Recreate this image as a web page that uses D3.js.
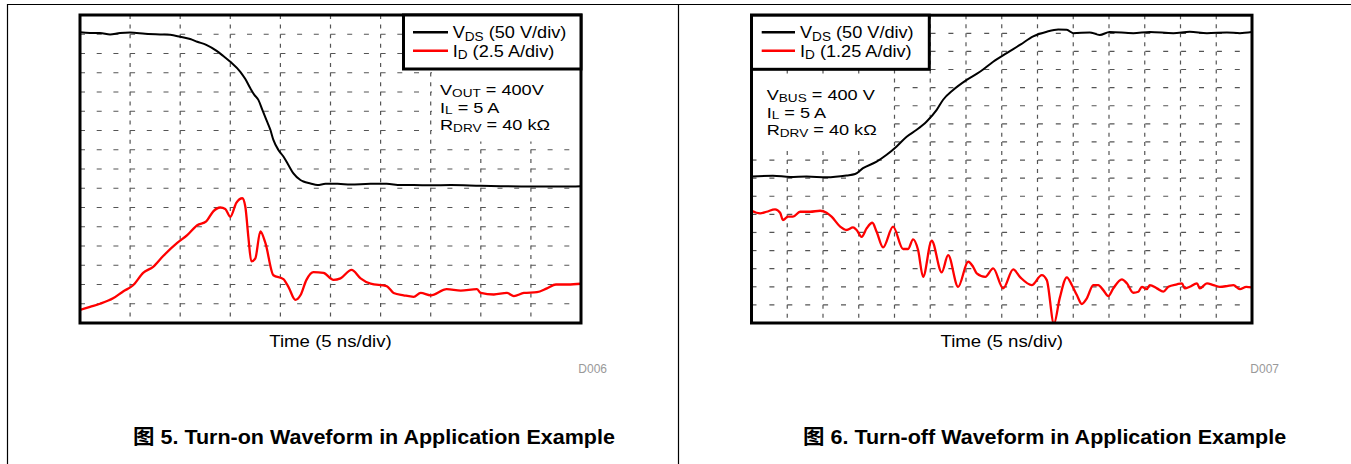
<!DOCTYPE html>
<html><head><meta charset="utf-8">
<script src="https://cdn.jsdelivr.net/npm/d3@7"></script>
<style>body{margin:0;background:#fff}svg{display:block}</style>
</head><body>
<svg id="c" width="1351" height="464"></svg>
<script>
// ---------- DATA (time in ns, voltage in V, current in A) ----------
// Figure 5: turn-on (5 ns/div, 10 div)
const onVdsT = [0,1,2,3,4,5,6.5,8,9,10,11,11.7,12.6,13.6,14.3,15,16,16.5,17,17.4,17.8,18.2,18.6,19,19.3,19.8,20.3,20.8,21.3,22,22.3,23,23.7,24.5,25.7,27,29,30.6,32,33.3,35,37,40,42,45,47,48.3,50];
const onVdsV = [397,395,395,391,395,396,393,391,390,385,379,372,364,349,335,320,294,275,251,234,221,195,169,143,117,91,74,52,30,13,9,4,0,3,3,1,3,3,0,0,-1,0,-2,-3,-4,-4,-4,-3];
const onIdT = [0,1,2,3.3,4.3,5.3,6.3,7.3,8.3,9.7,10.7,11.7,12.6,13.3,14,14.5,15,15.6,16.2,16.5,16.8,17.1,17.5,18,18.5,19.3,20.3,20.8,21.5,22,22.6,23.3,24.3,25.3,26,27.1,28,29,30.6,31.3,32.3,33.3,34,35,36.6,38,39.6,40,41.3,42.6,43.3,44.3,45.6,46.6,47.5,48.7,50];
const onIdA = [2.4,2.8,3.2,3.9,4.8,5.6,7.2,8.0,9.4,11.1,12.1,13.4,13.9,15.2,15.7,15.5,14.5,16.3,16.9,15.8,11.9,8.7,9.1,12.6,11.1,6.9,6.4,5.4,3.7,4.3,6.3,7.3,7.2,6.3,6.5,7.6,6.5,5.8,5.5,4.6,4.3,4.1,4.6,4.3,5.1,4.9,5.1,4.6,4.4,4.6,4.2,4.6,4.7,5.2,5.7,5.7,5.8];
// Figure 6: turn-off (5 ns/div, 14 div)
const offVdsT = [0,3,5.4,7.7,10.5,13.3,14.5,15.6,17.5,18.9,20.3,21.7,23.1,24.5,25.9,26.8,28.2,30.1,32,33.8,35.7,37.6,39.4,41.3,42.9,44.1,45,47.3,48.7,50.1,53.4,55.7,59,61.3,63.7,66.5,68.3,70];
const offVdsV = [1,3,0,1,-1,4,8,24,42,61,84,111,130,153,185,213,240,268,291,318,342,365,388,401,407,406,397,399,392,400,397,400,397,401,397,399,397,400];
const offIdT = [0,1.2,2.1,3.3,4.0,4.4,5.1,5.8,6.8,8.2,9.6,10.5,11.2,12.4,13.3,14.2,14.7,15.4,16.1,16.9,17.5,18.4,19.8,21.2,21.9,22.6,23.3,24.0,25.2,26.6,27.5,28.9,30.3,31.0,31.5,32.7,33.8,35.2,36.6,37.6,39.2,40.6,41.3,42.3,43.1,44.1,44.8,45.5,46.2,46.9,47.8,48.5,49.2,49.9,50.6,51.8,52.5,53.4,54.1,54.6,55.3,55.7,56.7,57.6,58.3,59.5,60.2,60.6,61.3,62.3,62.7,63.7,64.6,65.5,66.5,67.4,68.3,69.2,70];
const offIdA = [5.2,5.02,5.13,5.3,5.06,4.56,4.79,4.79,5.13,5.13,5.2,5.06,4.79,4.1,3.87,4.05,3.87,3.4,3.98,4.37,3.75,2.67,4.1,2.56,2.56,3.23,2.49,0.64,3.13,0.95,2.14,-0.05,1.68,1.33,0.88,0.64,1.22,-0.16,1.15,0.6,0.07,0.76,0.41,-2.6,-0.85,0.6,0.07,-0.62,-1.24,-0.85,0.07,0.07,-0.28,-0.69,-0.16,0.46,0.19,-0.46,-0.39,-0.05,-0.21,0.07,-0.16,-0.39,-0.05,0.12,0.19,-0.16,-0.05,0.19,-0.16,0.19,0.07,-0.05,0,0.07,-0.21,-0.05,-0.09];

// Text
const onLegend = [[["V",0],["DS",1],[" (50 V/div)",0]], [["I",0],["D",1],[" (2.5 A/div)",0]]];
const offLegend = [[["V",0],["DS",1],[" (50 V/div)",0]], [["I",0],["D",1],[" (1.25 A/div)",0]]];
const onNotes = [[["V",0],["OUT",1],[" = 400V",0]], [["I",0],["L",1],[" = 5 A",0]], [["R",0],["DRV",1],[" = 40 kΩ",0]]];
const offNotes = [[["V",0],["BUS",1],[" = 400 V",0]], [["I",0],["L",1],[" = 5 A",0]], [["R",0],["DRV",1],[" = 40 kΩ",0]]];
const axisLabel = "Time (5 ns/div)";
const captions = ["图 5. Turn-on Waveform in Application Example", "图 6. Turn-off Waveform in Application Example"];
const codes = ["D006", "D007"];

// ---------- LAYOUT ----------
const FONT = '"Liberation Sans", Arial, "Noto Sans CJK SC", sans-serif';
const TXT = 16.5, SX = 1.1, NOTE = 15.5, NSX = 1.17;
const panels = [
  {id:"on", x0:80, x1:581, y0:15, y1:323, cols:10, rows:16, tMax:50,
   vDom:[-358.5,441.5], iDom:[0.7,40.7], vdsT:onVdsT, vdsV:onVdsV, idT:onIdT, idA:onIdA,
   hDash:"5 11.7", vDash:"4 5.6", leg:{x0:403.5,x1:581,y0:15,y1:69,lx0:413,lx1:448,tx:452.7,ly:[32.3,50.7],ty:[38,56.5]},
   legend:onLegend, notes:onNotes, nx:440, ny:[95,112.5,130], white:{x:432,y:70.5,w:147.5,h:71},
   caption:captions[0], cx:133, code:codes[0], codeX:607},
  {id:"off", x0:751.5, x1:1252, y0:15.2, y1:323, cols:14, rows:17, tMax:70,
   vDom:[-403.5,446.5], iDom:[-2.55,18.7], vdsT:offVdsT, vdsV:offVdsV, idT:offIdT, idA:offIdA,
   hDash:"5 12.9", vDash:"4 5.05", leg:{x0:751.5,x1:929.3,y0:15.2,y1:69.3,lx0:761.7,lx1:795,tx:800,ly:[32.3,50.7],ty:[38,56.5]},
   legend:offLegend, notes:offNotes, nx:766.7, ny:[100,117.5,135], white:{x:753,y:77,w:140,h:73},
   caption:captions[1], cx:803, code:codes[1], codeX:1279}
];

const svg = d3.select("#c");
svg.append("rect").attr("width",1351).attr("height",464).attr("fill","#fff");
// page table lines
svg.append("line").attr("x1",7).attr("x2",1351).attr("y1",4.5).attr("y2",4.5).attr("stroke","#000").attr("stroke-width",1.2);
svg.append("line").attr("x1",7.5).attr("x2",7.5).attr("y1",4).attr("y2",464).attr("stroke","#000").attr("stroke-width",1.2);
svg.append("line").attr("x1",678.5).attr("x2",678.5).attr("y1",4).attr("y2",464).attr("stroke","#000").attr("stroke-width",1.2);

function richText(g, x, y, parts, size, anchor, sx, subDy) {
  const t = g.append("text").attr("transform",`translate(${x},${y}) scale(${sx||1},1)`)
    .attr("font-family",FONT).attr("font-size",size).attr("fill","#000");
  if (anchor) t.attr("text-anchor",anchor);
  const dy = subDy != null ? subDy : size*0.17;
  let sub = false;
  parts.forEach(([s,isSub]) => {
    const ts = t.append("tspan").text(s);
    if (isSub && !sub) { ts.attr("dy", dy).attr("font-size", size*0.75); sub = true; }
    else if (isSub) { ts.attr("font-size", size*0.75); }
    else if (!isSub && sub) { ts.attr("dy", -dy); sub = false; }
  });
  return t;
}

panels.forEach(p => {
  const g = svg.append("g");
  const x = d3.scaleLinear().domain([0,p.tMax]).range([p.x0,p.x1]);
  const yV = d3.scaleLinear().domain(p.vDom).range([p.y1,p.y0]);
  const yI = d3.scaleLinear().domain(p.iDom).range([p.y1,p.y0]);
  const yDiv = d3.scaleLinear().domain([0,p.rows]).range([p.y1,p.y0]);
  const xDiv = d3.scaleLinear().domain([0,p.cols]).range([p.x0,p.x1]);

  // grid
  const grid = g.append("g").attr("stroke","#555").attr("stroke-width",1.2);
  grid.selectAll(".h").data(d3.range(1,p.rows)).join("line")
    .attr("x1",p.x0).attr("x2",p.x1).attr("y1",d=>yDiv(d)).attr("y2",d=>yDiv(d))
    .attr("stroke-dasharray",p.hDash);
  grid.selectAll(".v").data(d3.range(1,p.cols)).join("line")
    .attr("y1",p.y0).attr("y2",p.y1).attr("x1",d=>xDiv(d)).attr("x2",d=>xDiv(d))
    .attr("stroke-dasharray",p.vDash);

  // white area behind notes
  g.append("rect").attr("x",p.white.x).attr("y",p.white.y).attr("width",p.white.w).attr("height",p.white.h).attr("fill","#fff");

  // clip
  const cid = "clip-"+p.id;
  svg.append("clipPath").attr("id",cid).append("rect")
    .attr("x",p.x0).attr("y",p.y0).attr("width",p.x1-p.x0).attr("height",p.y1-p.y0);

  const lineV = d3.line().x(d=>x(d[0])).y(d=>yV(d[1])).curve(d3.curveMonotoneX);
  const lineI = d3.line().x(d=>x(d[0])).y(d=>yI(d[1])).curve(d3.curveMonotoneX);
  const cg = g.append("g").attr("clip-path",`url(#${cid})`);
  cg.append("path").datum(d3.zip(p.idT,p.idA)).attr("d",lineI)
    .attr("fill","none").attr("stroke","#ff0000").attr("stroke-width",2.3).attr("stroke-linejoin","round");
  cg.append("path").datum(d3.zip(p.vdsT,p.vdsV)).attr("d",lineV)
    .attr("fill","none").attr("stroke","#000").attr("stroke-width",2).attr("stroke-linejoin","round");

  // frame
  g.append("rect").attr("x",p.x0).attr("y",p.y0).attr("width",p.x1-p.x0).attr("height",p.y1-p.y0)
    .attr("fill","none").attr("stroke","#000").attr("stroke-width",3);

  // legend
  const L = p.leg;
  g.append("rect").attr("x",L.x0).attr("y",L.y0).attr("width",L.x1-L.x0).attr("height",L.y1-L.y0)
    .attr("fill","#fff").attr("stroke","#000").attr("stroke-width",3);
  ["#000","#ff0000"].forEach((c,i) => {
    g.append("line").attr("x1",L.lx0).attr("x2",L.lx1).attr("y1",L.ly[i]).attr("y2",L.ly[i])
      .attr("stroke",c).attr("stroke-width",2.5);
    richText(g, L.tx, L.ty[i], p.legend[i], TXT, null, SX);
  });

  // notes
  p.notes.forEach((n,i) => richText(g, p.nx, p.ny[i], n, NOTE, null, NSX, 1.8));

  // axis label
  richText(g, (p.x0+p.x1)/2, 347, [[axisLabel,0]], TXT, "middle", 1.13);
  g.append("text").attr("x",p.codeX).attr("y",373).attr("text-anchor","end")
    .attr("font-family",FONT).attr("font-size",12).attr("fill","#999").text(p.code);
  g.append("text").attr("transform",`translate(${p.cx},444) scale(1.05,1)`).attr("font-family",FONT)
    .attr("font-weight","bold").attr("font-size",20.5).text(p.caption);
});
</script>
</body></html>
